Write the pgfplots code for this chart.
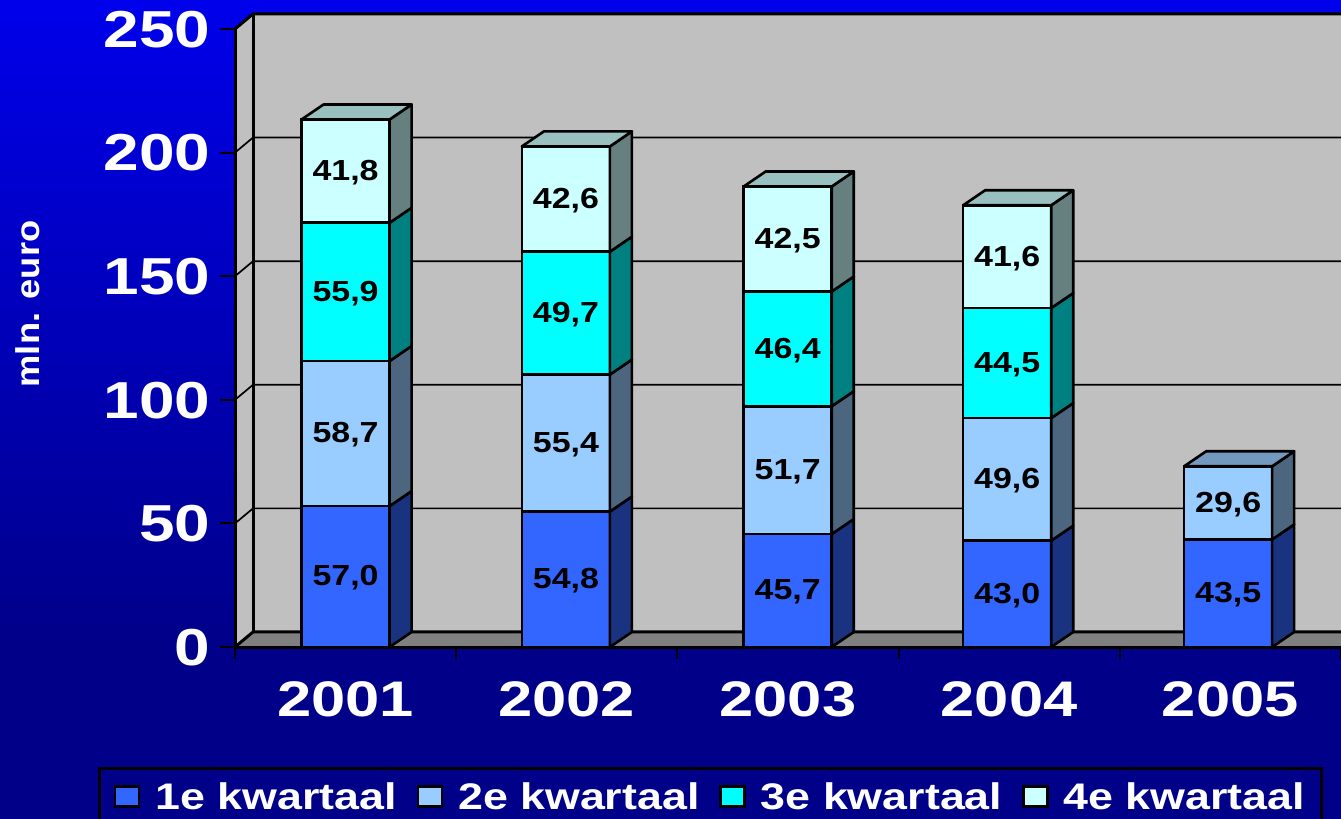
\documentclass[border=0pt]{standalone}
\usepackage{pgfplots}
\usepackage{pgfplotstable}
\usepackage{fontspec}
\pgfplotsset{compat=1.18}
\setmainfont{Liberation Sans}
\newfontfamily\fA[FakeStretch=1.23]{Liberation Sans}
\newfontfamily\fB[FakeStretch=1.17]{Liberation Sans}
\newfontfamily\fC[FakeStretch=1.21]{Liberation Sans}
\newfontfamily\fD[FakeStretch=1.1]{Liberation Sans}
\definecolor{skyA}{RGB}{0,0,235}
\definecolor{skyB}{RGB}{0,0,136}
\definecolor{wall}{RGB}{192,192,192}
\definecolor{floorc}{RGB}{128,128,128}
\definecolor{qa}{RGB}{51,102,255}
\definecolor{qb}{RGB}{153,204,255}
\definecolor{qc}{RGB}{0,255,255}
\definecolor{qd}{RGB}{204,255,255}
\definecolor{qaS}{RGB}{26,51,128}
\definecolor{qbS}{RGB}{77,102,128}
\definecolor{qcS}{RGB}{0,128,128}
\definecolor{qdS}{RGB}{102,128,128}
\definecolor{qaT}{RGB}{38,76,191}
\definecolor{qbT}{RGB}{115,153,191}
\definecolor{qcT}{RGB}{0,191,191}
\definecolor{qdT}{RGB}{153,191,191}
\pgfplotstableread{
x     q1   q2   q3   q4
0.500 57.0 58.7 55.9 41.8
1.496 54.8 55.4 49.7 42.6
2.499 45.7 51.7 46.4 42.5
3.491 43.0 49.6 44.5 41.6
4.490 43.5 29.6 0    0
}\kwartalen
\newcommand\barhw{0.199}% half bar width in x units
\newcommand\segment[4]{% x, base, value, colour letter
  \pgfmathsetmacro\xr{#1+\barhw}%
  \pgfmathsetmacro\xs{\xr+0.0995}%
  \pgfmathsetmacro\yt{#2+#3}%
  \pgfmathsetmacro\yoa{#2+6.07}%
  \pgfmathsetmacro\yob{\yt+6.07}%
  \pgfmathsetmacro\ymid{#2+#3/2}%
  \edef\temp{\noexpand\addplot[forget plot,fill=q#4S,draw=black,line width=2.6pt,line join=round]
     coordinates {(\xr,#2) (\xs,\yoa) (\xs,\yob) (\xr,\yt)} --cycle;
     \noexpand\node[font=\noexpand\fB\noexpand\bfseries\noexpand\fontsize{29}{29}\noexpand\selectfont,text=black,yshift=-1.5pt]
     at (axis cs:#1,\ymid) {\noexpand\pgfmathprintnumber[fixed,fixed zerofill,precision=1,use comma]{#3}};}%
  \temp
}
\newcommand\topface[3]{% x, top, colour letter
  \pgfmathsetmacro\xl{#1-\barhw}%
  \pgfmathsetmacro\xr{#1+\barhw}%
  \pgfmathsetmacro\xm{\xl+0.0995}%
  \pgfmathsetmacro\xs{\xr+0.0995}%
  \pgfmathsetmacro\yob{#2+6.07}%
  \edef\temp{\noexpand\addplot[forget plot,fill=q#3T,draw=black,line width=2.6pt,line join=round]
     coordinates {(\xl,#2) (\xm,\yob) (\xs,\yob) (\xr,#2)} --cycle;}%
  \temp
}
\begin{document}
\begin{tikzpicture}[x=1pt,y=1pt]
\useasboundingbox (0,0) rectangle (1341,819);
\clip (0,0) rectangle (1341,819);
\fill[skyB] (0,0) rectangle (1341,175);
\shade[top color=skyA,bottom color=skyB] (0,169) rectangle (1341,819);
\begin{axis}[
  at={(235pt,172pt)}, anchor=south west,
  scale only axis, width=1106pt, height=618pt,
  xmin=0, xmax=5, ymin=0, ymax=250,
  clip=false,
  axis x line=bottom, axis y line=left,
  axis line style={-,line width=3pt,black},
  xtick={0,1,2,3,4,5},
  x tick label as interval,
  xticklabels={2001,2002,2003,2004,2005},
  ytick={0,50,100,150,200,250},
  tick align=outside,
  tick style={black,line width=2pt},
  xtick style={/pgfplots/major tick length=12pt},
  ytick style={/pgfplots/major tick length=15pt},
  xticklabel style={font=\fA\bfseries\fontsize{50}{50}\selectfont,text=white,yshift=-30pt,inner sep=0pt},
  yticklabel style={font=\fA\bfseries\fontsize{52}{52}\selectfont,text=white,xshift=-20pt,yshift=-0.5pt,inner sep=0pt},
  /pgf/number format/assume math mode=true,
  legend columns=4,
  legend style={
    at={(axis cs:-0.6174,-48.5)}, anchor=north west,
    fill=none, draw=black, line width=3pt,
    text=white,
    font=\fC\bfseries\fontsize{37}{37}\selectfont,
    inner xsep=14pt, inner ysep=12pt,
    /tikz/every even column/.append style={column sep=17.8pt},
    /tikz/every odd column/.append style={column sep=13pt},
    cells={anchor=west},
  },
  legend image code/.code={\draw[#1,line width=2.5pt,draw=black] (0pt,-10pt) rectangle (24pt,10pt);},
]
% walls and floor
\addplot[forget plot,fill=wall,draw=none] coordinates {(0.0814,6.07) (5,6.07) (5,256.07) (0.0814,256.07)} --cycle;
\addplot[forget plot,fill=wall,draw=none] coordinates {(0,0) (0.0814,6.07) (0.0814,256.07) (0,250)} --cycle;
\addplot[forget plot,fill=floorc,draw=none] coordinates {(0,0) (0.0814,6.07) (5,6.07) (5,0)} --cycle;
% gridlines on the back wall and left wall
\addplot[forget plot,black,line width=1.7pt] coordinates {(0,50) (0.0814,56.07) (5,56.07)};
\addplot[forget plot,black,line width=1.7pt] coordinates {(0,100) (0.0814,106.07) (5,106.07)};
\addplot[forget plot,black,line width=1.7pt] coordinates {(0,150) (0.0814,156.07) (5,156.07)};
\addplot[forget plot,black,line width=1.7pt] coordinates {(0,200) (0.0814,206.07) (5,206.07)};
\addplot[forget plot,black,line width=3pt] coordinates {(0,250) (0.0814,256.07) (5,256.07)};
\addplot[forget plot,black,line width=3pt] coordinates {(0,0) (0.0814,6.07) (5,6.07)};
\addplot[forget plot,black,line width=3pt] coordinates {(0.0814,6.07) (0.0814,256.07)};
\addplot[forget plot,black,line width=3pt] coordinates {(0,0) (0,250)};
% front faces
\addplot[ybar,stack plots=y,bar shift=0pt,bar width=88pt,fill=qa,draw=black,line width=2.6pt] table[x=x,y=q1]{\kwartalen};
\addplot[ybar,stack plots=y,bar shift=0pt,bar width=88pt,fill=qb,draw=black,line width=2.6pt] table[x=x,y=q2]{\kwartalen};
\addplot[ybar,stack plots=y,bar shift=0pt,bar width=88pt,fill=qc,draw=black,line width=2.6pt] table[x=x,y=q3]{\kwartalen};
\addplot[ybar,stack plots=y,bar shift=0pt,bar width=88pt,fill=qd,draw=black,line width=2.6pt] table[x=x,y=q4]{\kwartalen};
% side and top faces with value labels
\pgfplotsforeachungrouped \r in {0,...,4}{%
  \pgfplotstablegetelem{\r}{x}\of\kwartalen \let\cx\pgfplotsretval
  \def\base{0}%
  \pgfplotsforeachungrouped \q/\l in {1/a,2/b,3/c,4/d}{%
    \pgfplotstablegetelem{\r}{q\q}\of\kwartalen \let\val\pgfplotsretval
    \pgfmathparse{\val>0?1:0}%
    \ifnum\pgfmathresult>0
      \edef\docall{\noexpand\segment{\cx}{\base}{\val}{\l}}\docall
      \pgfmathsetmacro\base{\base+\val}%
      \let\lastl\l
    \fi
  }%
  \edef\docall{\noexpand\topface{\cx}{\base}{\lastl}}\docall
}
\addplot[forget plot,black,line width=3pt] coordinates {(0,0) (5,0)};
\legend{1e kwartaal,2e kwartaal,3e kwartaal,4e kwartaal}
\end{axis}
\node[rotate=90,text=white,font=\fD\bfseries\fontsize{33}{33}\selectfont] at (28,515) {mln. euro};
\end{tikzpicture}
\end{document}
